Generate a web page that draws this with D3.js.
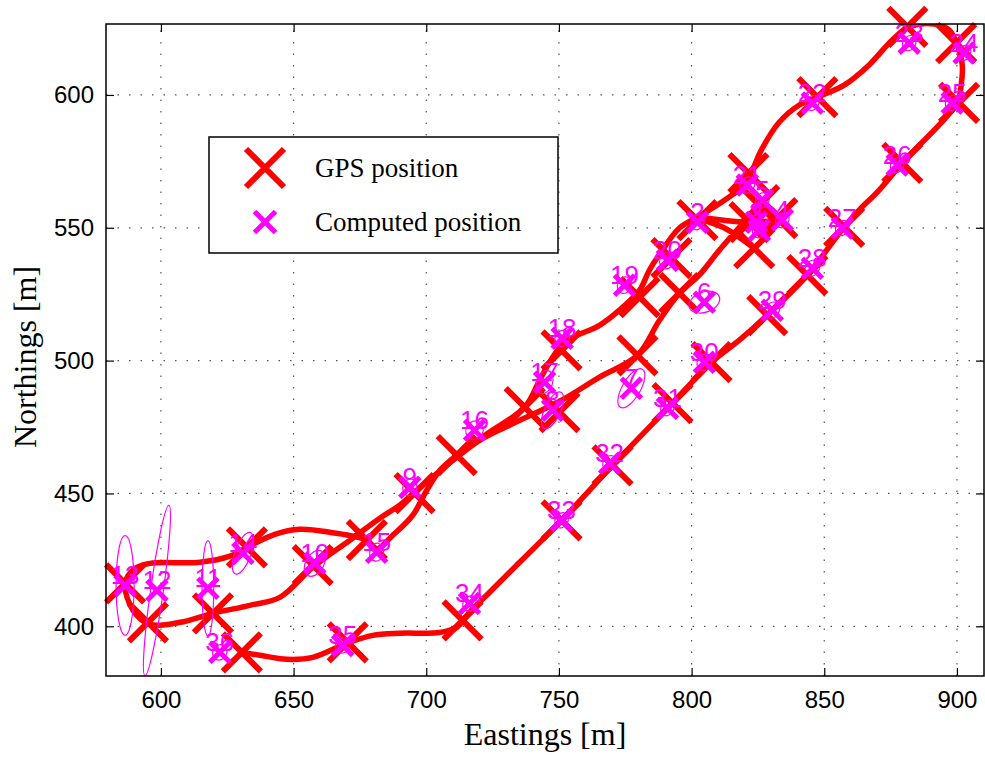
<!DOCTYPE html>
<html><head><meta charset="utf-8">
<script src="https://cdn.jsdelivr.net/npm/d3@7"></script>
<style>html,body{margin:0;padding:0;background:#fff;}</style>
</head><body>
<svg id="chart" width="985" height="757"></svg>
<script>
// ---- data (metres) ----
const pointIds = d3.range(1, 37);
const gpsEast  = [823.6,802.2,821.8,832.3,825.5,795.4,779.6,750.2,695.6,657.2,619.6,595.1,586.5,632.4,677.6,711.5,737.1,751.0,780.4,792.4,821.4,847.4,881.3,899.7,900.8,879.4,857.5,843.6,828.5,807.5,792.8,770.2,751.0,713.7,670.4,630.5];
const gpsNorth = [542.3,552.9,552.1,553.6,558.5,525.4,502.0,480.6,450.1,423.0,404.9,401.5,416.2,429.7,432.4,464.4,482.5,503.9,523.9,538.6,570.6,599.2,625.6,619.5,597.0,574.4,550.3,532.2,517.1,499.4,484.0,460.6,439.9,402.2,394.0,390.2];
const compEast  = [825.5,802.2,824.4,834.2,826.7,804.8,777.3,747.6,693.8,658.0,617.7,598.5,586.5,630.9,681.3,718.2,744.6,751.2,774.7,790.9,821.0,845.5,882.0,902.7,898.2,877.5,856.8,845.5,830.4,804.8,790.9,769.1,751.0,716.3,668.5,622.2];
const compNorth = [549.1,552.1,552.1,552.9,560.4,522.0,489.6,481.3,452.3,423.7,414.3,413.5,415.4,427.5,427.9,473.8,491.9,508.4,528.4,537.8,566.1,597.0,619.5,615.8,597.0,573.6,549.9,534.8,519.0,499.4,482.1,461.4,439.9,408.6,392.8,390.2];
// error ellipse semi-axes (m) and orientation (deg)
const ellA   = [3,3,3,3,3,6,8.3,7.5,3.2,5.3,18,32.4,18.8,8.3,3.4,3.6,4.5,3.2,3.2,3.4,3.2,3,3,3,3,3,3,3.2,3.2,3.2,3,3,3,3,3,3];
const ellB   = [2.4,2.4,2.4,2.4,2.4,3.8,3.4,3,2.6,3.4,2.2,2.4,3.4,3,2.6,3.2,3,2.6,2.6,2.8,2.6,2.4,2.4,2.4,2.4,2.4,2.4,2.6,2.6,2.6,2.4,2.4,2.4,2.4,2.6,2.6];
const ellAng = [60,60,60,60,60,20,60,65,70,60,90,82,90,70,80,60,70,60,70,60,60,60,60,60,60,60,60,60,60,60,60,60,60,60,60,60];
// smoothed true trajectory
const trajEast  = [823.6,812.4,802.9,821.0,832.3,827.4,819.9,810.5,802.9,795.4,787.9,779.6,765.3,751.0,731.4,720.1,711.5,703.2,695.6,690.0,682.5,671.2,657.2,644.8,633.5,619.6,607.2,595.9,589.5,586.5,590.2,595.9,614.7,626.0,632.4,642.9,652.3,663.6,677.6,681.0,687.4,694.9,700.2,705.1,711.5,723.9,737.1,742.7,746.5,752.1,765.3,772.8,780.4,784.1,789.0,795.4,802.9,812.4,819.9,822.9,826.3,833.1,840.6,847.4,857.5,866.9,875.6,882.0,891.4,897.1,900.1,902.0,901.6,900.1,893.3,885.8,879.4,870.7,863.2,857.5,843.6,828.5,818.0,807.5,792.8,770.2,751.0,735.2,723.9,716.3,711.5,705.1,690.0,679.8,670.0,657.2,647.4,637.3,630.5];
const trajNorth = [542.3,549.9,553.6,552.1,553.6,558.5,552.1,541.6,532.2,525.4,515.2,502.0,493.8,485.1,475.7,470.0,463.6,456.9,450.5,445.6,440.7,432.4,422.2,410.9,407.9,404.9,401.5,400.7,406.0,416.2,421.8,423.7,424.1,426.4,429.7,434.6,436.5,435.4,432.4,429.0,434.3,441.8,451.2,458.7,464.4,473.1,482.5,492.6,499.4,506.9,513.3,519.0,526.5,534.1,541.6,549.9,554.4,560.4,566.1,571.7,579.3,589.8,596.2,599.2,603.7,611.3,620.7,625.6,626.7,624.4,618.8,611.3,603.7,597.0,588.7,581.1,574.4,564.2,556.7,550.3,532.2,517.1,507.7,499.4,484.0,460.6,439.9,424.1,412.8,405.3,399.6,397.7,397.4,396.6,393.6,388.3,387.6,389.1,390.2];
const xTicks = [600,650,700,750,800,850,900];
const yTicks = [400,450,500,550,600];
const legendLabels = ["GPS position", "Computed position"];

// ---- layout ----
const L = 106, R = 984, T = 24, B = 676;
const x = d3.scaleLinear().domain([579.3, 910.2]).range([L, R]);
const y = d3.scaleLinear().domain([381.3, 626.7]).range([B, T]);
const svg = d3.select("#chart");

svg.append("defs").append("clipPath").attr("id","clip")
  .append("rect").attr("x",L).attr("y",T).attr("width",R-L).attr("height",B-T);

// grid
const grid = svg.append("g").attr("stroke","#555").attr("stroke-width",1.2).attr("stroke-dasharray","1.5,10");
grid.selectAll("line.gx").data(xTicks).join("line")
  .attr("x1",d=>x(d)).attr("x2",d=>x(d)).attr("y1",B).attr("y2",T);
grid.selectAll("line.gy").data(yTicks).join("line")
  .attr("y1",d=>y(d)).attr("y2",d=>y(d)).attr("x1",L).attr("x2",R);

// axes (inward ticks)
const axB = d3.axisBottom(x).tickValues(xTicks).tickSizeInner(-8).tickSizeOuter(0).tickPadding(15);
const axL = d3.axisLeft(y).tickValues(yTicks).tickSizeInner(-8).tickSizeOuter(0).tickPadding(12);
const axT = d3.axisTop(x).tickValues(xTicks).tickSizeInner(-8).tickSizeOuter(0).tickFormat("");
const axR = d3.axisRight(y).tickValues(yTicks).tickSizeInner(-8).tickSizeOuter(0).tickFormat("");
function styleAxis(g){
  g.select(".domain").remove();
  g.selectAll("line").attr("stroke","#000").attr("stroke-width",1.2);
  g.selectAll("text").attr("fill","#000").attr("font-family","Liberation Sans, Arial, sans-serif").attr("font-size",24);
}
svg.append("g").attr("transform",`translate(0,${B})`).call(axB).call(styleAxis);
svg.append("g").attr("transform",`translate(${L},0)`).call(axL).call(styleAxis);
svg.append("g").attr("transform",`translate(0,${T})`).call(axT).call(styleAxis);
svg.append("g").attr("transform",`translate(${R},0)`).call(axR).call(styleAxis);

// data layers
const gps = pointIds.map((id,i)=>({id, e:gpsEast[i], n:gpsNorth[i]}));
const comp = pointIds.map((id,i)=>({id, e:compEast[i], n:compNorth[i], a:ellA[i], b:ellB[i], ang:ellAng[i]}));
const traj = trajEast.map((e,i)=>({e, n:trajNorth[i]}));

const plot = svg.append("g");
const line = d3.line().x(d=>x(d.e)).y(d=>y(d.n)).curve(d3.curveCatmullRom.alpha(0.5));
plot.append("path").datum(traj).attr("d",line).attr("fill","none")
  .attr("stroke","#ff0000").attr("stroke-width",5.5).attr("stroke-linejoin","round")
  .attr("clip-path","url(#clip)");

function cross(s){ return `M${-s},${-s}L${s},${s}M${-s},${s}L${s},${-s}`; }

plot.selectAll("path.gps").data(gps).join("path")
  .attr("transform",d=>`translate(${x(d.e)},${y(d.n)})`)
  .attr("d",cross(19)).attr("stroke","#ff0000").attr("stroke-width",6).attr("fill","none");

plot.selectAll("path.comp").data(comp).join("path")
  .attr("transform",d=>`translate(${x(d.e)},${y(d.n)})`)
  .attr("d",cross(10)).attr("stroke","#ff00ff").attr("stroke-width",5).attr("fill","none");

const kx = x(1)-x(0), ky = y(0)-y(1);
plot.selectAll("ellipse").data(comp).join("ellipse")
  .attr("transform",d=>`translate(${x(d.e)},${y(d.n)}) rotate(${-d.ang})`)
  .attr("rx",d=>d.a*kx).attr("ry",d=>d.b*ky)
  .attr("fill","none").attr("stroke","#ff00ff").attr("stroke-width",1.2);

plot.selectAll("text.lbl").data(comp).join("text")
  .attr("x",d=>x(d.e)).attr("y",d=>y(d.n)-1)
  .attr("text-anchor","middle")
  .attr("font-family","Liberation Sans, Arial, sans-serif").attr("font-size",26)
  .attr("fill","#ff00ff").text(d=>d.id);

// box
svg.append("rect").attr("x",L).attr("y",T).attr("width",R-L).attr("height",B-T)
  .attr("fill","none").attr("stroke","#000").attr("stroke-width",1.5);

// legend
const lg = svg.append("g");
lg.append("rect").attr("x",209).attr("y",137).attr("width",349).attr("height",116)
  .attr("fill","#fff").attr("stroke","#000").attr("stroke-width",1.5);
lg.append("path").attr("transform","translate(265,168)").attr("d",cross(19))
  .attr("stroke","#ff0000").attr("stroke-width",6).attr("fill","none");
lg.append("path").attr("transform","translate(265,222)").attr("d",cross(10.5))
  .attr("stroke","#ff00ff").attr("stroke-width",5).attr("fill","none");
lg.selectAll("text").data(legendLabels).join("text")
  .attr("x",315).attr("y",(d,i)=>177+i*54)
  .attr("font-family","Liberation Serif, Times New Roman, serif").attr("font-size",27)
  .attr("fill","#000").text(d=>d);

// axis titles
svg.append("text").attr("x",545).attr("y",745).attr("text-anchor","middle")
  .attr("font-family","Liberation Serif, Times New Roman, serif").attr("font-size",32)
  .text("Eastings [m]");
svg.append("text").attr("transform",`translate(36,357) rotate(-90)`).attr("text-anchor","middle")
  .attr("font-family","Liberation Serif, Times New Roman, serif").attr("font-size",32)
  .text("Northings [m]");
</script>
</body></html>
